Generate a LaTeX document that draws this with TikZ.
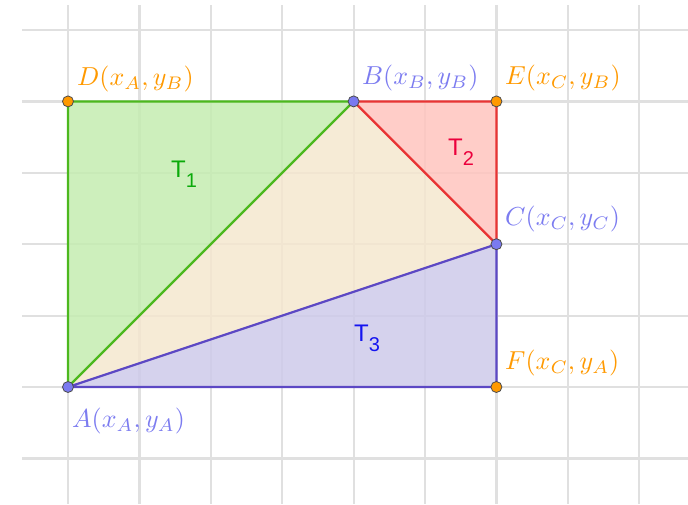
\documentclass[tikz,border=0pt]{standalone}
\usepackage{fontspec}
\newfontfamily\tfont{Liberation Sans}
\definecolor{gridc}{RGB}{224,224,224}
\definecolor{grfill}{RGB}{196,236,176}
\definecolor{rdfill}{RGB}{255,196,190}
\definecolor{tnfill}{RGB}{245,231,207}
\definecolor{pufill}{RGB}{206,202,234}
\definecolor{grline}{RGB}{76,184,30}
\definecolor{rdline}{RGB}{232,52,52}
\definecolor{puline}{RGB}{92,72,196}
\definecolor{bluelab}{RGB}{124,124,240}
\definecolor{orlab}{RGB}{255,153,0}
\definecolor{bluept}{RGB}{122,122,240}
\definecolor{tgreen}{RGB}{10,170,10}
\definecolor{tred}{RGB}{235,0,60}
\definecolor{tblue}{RGB}{20,20,240}
\newcommand{\biglab}[1]{\scalebox{2.6}{$#1$}}
\newcommand{\tsub}[1]{T\raisebox{-0.42em}{\fontsize{20}{22}\selectfont #1}}
\tikzset{
  ptb/.style={circle,draw=black!70,fill=bluept,inner sep=0pt,minimum size=11pt,line width=0.8pt},
  pto/.style={circle,draw=black!70,fill=orlab,inner sep=0pt,minimum size=11pt,line width=0.8pt},
  lab/.style={inner sep=0pt,font=\fontsize{10}{12}\selectfont},
  tlab/.style={inner sep=0pt,font=\tfont\fontsize{24}{26}\selectfont},
}
\begin{document}
\begin{tikzpicture}[x=1pt,y=-1pt]
\useasboundingbox (0,0) rectangle (688,504);
% grid
\foreach \x in {68,139.4,210.8,282.2,353.6,425,496.4,567.8,639.2}
  \draw[gridc,line width=2.2pt] (\x,5) -- (\x,504);
\foreach \y in {30,101.4,172.8,244.2,315.6,387,458.4}
  \draw[gridc,line width=2.2pt] (22,\y) -- (688,\y);
% coordinates
\coordinate (A) at (68,387);
\coordinate (D) at (68,101.4);
\coordinate (B) at (353.6,101.4);
\coordinate (E) at (496.4,101.4);
\coordinate (C) at (496.4,244.2);
\coordinate (F) at (496.4,387);
% fills
\fill[tnfill,opacity=0.85] (A) -- (B) -- (C) -- cycle;
\fill[grfill,opacity=0.85] (A) -- (D) -- (B) -- cycle;
\fill[rdfill,opacity=0.85] (B) -- (E) -- (C) -- cycle;
\fill[pufill,opacity=0.85] (A) -- (C) -- (F) -- cycle;
% lines
\draw[grline,line width=2.2pt] (A) -- (D) -- (B) -- cycle;
\draw[rdline,line width=2.2pt] (B) -- (E) -- (C) -- cycle;
\draw[puline,line width=2.2pt] (A) -- (C) -- (F) -- cycle;
% points
\node[ptb] (pA) at (A) {};
\node[ptb] (pB) at (B) {};
\node[ptb] (pC) at (C) {};
\node[pto] (pD) at (D) {};
\node[pto] (pE) at (E) {};
\node[pto] (pF) at (F) {};
% labels
\node[lab,text=orlab,anchor=west] (lD) at (77,79) {\biglab{D(x_A,y_B)}};
\node[lab,text=bluelab,anchor=west] (lB) at (362,78) {\biglab{B(x_B,y_B)}};
\node[lab,text=orlab,anchor=west] (lE) at (505,78) {\biglab{E(x_C,y_B)}};
\node[lab,text=bluelab,anchor=west] (lC) at (505,219) {\biglab{C(x_C,y_C)}};
\node[lab,text=orlab,anchor=west] (lF) at (505,363) {\biglab{F(x_C,y_A)}};
\node[lab,text=bluelab,anchor=west] (lA) at (72,421) {\biglab{A(x_A,y_A)}};
\node[tlab,text=tgreen,anchor=base west] (t1) at (171,177) {\tsub{1}};
\node[tlab,text=tred,anchor=base west] (t2) at (448,155) {\tsub{2}};
\node[tlab,text=tblue,anchor=base west] (t3) at (354,341) {\tsub{3}};
\end{tikzpicture}
\end{document}
